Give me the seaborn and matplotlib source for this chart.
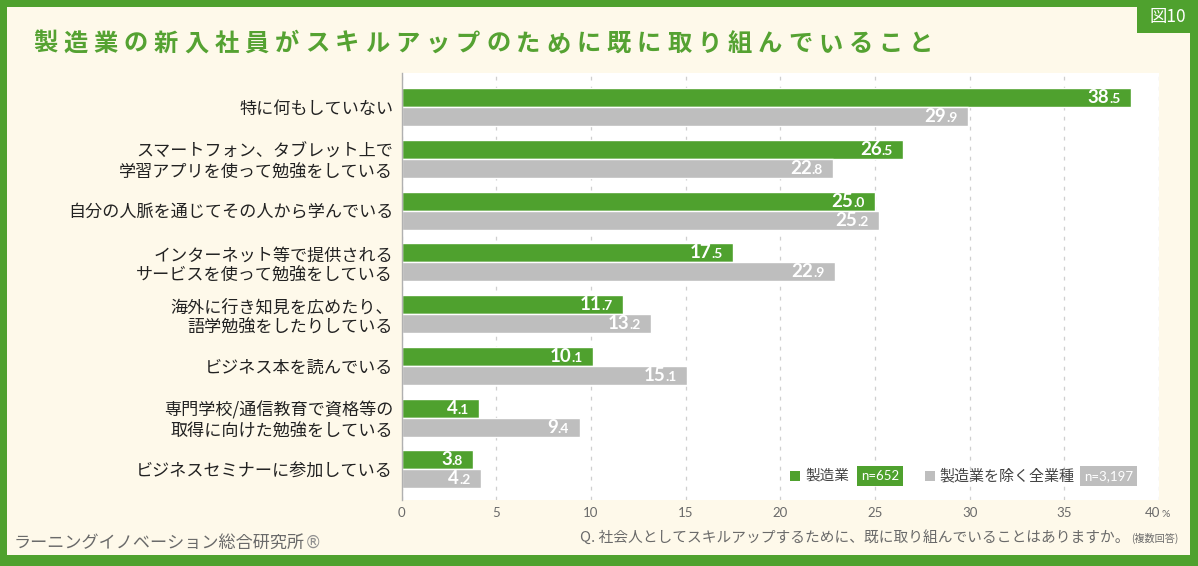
import matplotlib
matplotlib.use("Agg")
import numpy as np
import pandas as pd
import matplotlib.pyplot as plt
import seaborn as sns
from matplotlib.patches import Rectangle
from matplotlib.offsetbox import TextArea, HPacker, AnnotationBbox

categories = [
    "特に何もしていない",
    "スマートフォン、タブレット上で\n学習アプリを使って勉強をしている",
    "自分の人脈を通じてその人から学んでいる",
    "インターネット等で提供される\nサービスを使って勉強をしている",
    "海外に行き知見を広めたり、\n語学勉強をしたりしている",
    "ビジネス本を読んでいる",
    "専門学校/通信教育で資格等の\n取得に向けた勉強をしている",
    "ビジネスセミナーに参加している",
]
manufacturing = [38.5, 26.5, 25.0, 17.5, 11.7, 10.1, 4.1, 3.8]
all_other = [29.9, 22.8, 25.2, 22.9, 13.2, 15.1, 9.4, 4.2]
series = ["製造業", "製造業を除く全業種"]
sample_sizes = ["n=652", "n=3,197"]
xticks = [0, 5, 10, 15, 20, 25, 30, 35, 40]

title = "製造業の新入社員がスキルアップのために既に取り組んでいること"
source = "ラーニングイノベーション総合研究所"
question = "Q. 社会人としてスキルアップするために、既に取り組んでいることはありますか。"
question_note = "(複数回答)"

GREEN = "#4fa12e"
GRAY = "#bebebe"
CREAM = "#fef9ea"
TEXT_GRAY = "#6a6a6a"

W, H = 1198, 566


def fx(x):
    return x / W


def fy(y):
    return 1 - y / H


df = pd.DataFrame({
    "item": categories * 2,
    "group": [series[0]] * len(categories) + [series[1]] * len(categories),
    "pct": manufacturing + all_other,
})

sns.set_theme(style="white")
plt.rcParams["font.family"] = ["Noto Sans CJK JP", "DejaVu Sans"]

fig = plt.figure(figsize=(W / 100, H / 100), dpi=100, facecolor=GREEN)

# frame
fig.patches.append(Rectangle((fx(7), fy(555)), fx(1190) - fx(7), fy(7) - fy(555),
                             transform=fig.transFigure, facecolor=CREAM, edgecolor="none", zorder=-3))
fig.patches.append(Rectangle((fx(1137), fy(33)), fx(W) - fx(1137), 1 - fy(33),
                             transform=fig.transFigure, facecolor=GREEN, edgecolor="none", zorder=-2))
fig.text(fx(1168), fy(17), "図10", color="white", fontsize=12.5, ha="center", va="center")

# title, letter-spaced
for i, ch in enumerate(title):
    fig.text(fx(33 + i * 30.2), fy(44), ch, color="#55a232", fontsize=17.5,
             fontweight="bold", ha="left", va="center")

ax = fig.add_axes([fx(401.5), fy(500), fx(1159) - fx(401.5), fy(73) - fy(500)])
sns.barplot(data=df, y="item", x="pct", hue="group", orient="h",
            palette=[GREEN, GRAY], width=0.734, gap=0, saturation=1,
            legend=False, ax=ax)

ax.set_facecolor("white")
ax.set_xlim(0, 40)
ax.set_ylim(7.59, -0.656)
ax.set_xticks(xticks)
ax.set_xticklabels([str(t) for t in xticks[:-1]] + [""])
ax.set_xlabel("")
ax.set_ylabel("")
ax.grid(axis="x", color="#cfcfcf", linestyle=(0, (3, 5)), linewidth=0.9)
ax.set_axisbelow(True)
for side in ["top", "right", "bottom"]:
    ax.spines[side].set_visible(False)
ax.spines["left"].set_color("#b0b0b0")
ax.spines["left"].set_linewidth(1.0)
ax.tick_params(axis="x", length=0, labelsize=9.5, labelcolor=TEXT_GRAY, pad=5)
ax.tick_params(axis="y", length=0, labelsize=12.3, labelcolor="#222222", pad=6)
for lab in ax.get_yticklabels():
    lab.set_linespacing(1.2)
for lab in ax.get_xticklabels():
    lab.set_fontfamily("Lato")

# "40%" with small percent sign
pct_pack = HPacker(children=[
    TextArea("40", textprops=dict(color=TEXT_GRAY, fontsize=9.5, family="Lato")),
    TextArea("%", textprops=dict(color=TEXT_GRAY, fontsize=7.5, family="Lato")),
], align="baseline", pad=0, sep=1)
ax.add_artist(AnnotationBbox(pct_pack, (40, 0), xycoords=("data", "axes fraction"),
                             xybox=(-1, -5), boxcoords="offset points",
                             box_alignment=(0.5, 1), frameon=False, annotation_clip=False))

# value labels with smaller decimal
for container, vals in zip(ax.containers, [manufacturing, all_other]):
    for bar, v in zip(container, vals):
        whole, dec = f"{v:.1f}".split(".")
        pack = HPacker(children=[
            TextArea(whole, textprops=dict(color="white", fontsize=13.5, fontweight="bold", family="Lato")),
            TextArea("." + dec, textprops=dict(color="white", fontsize=10, fontweight="bold", family="Lato")),
        ], align="baseline", pad=0, sep=0)
        ab = AnnotationBbox(pack, (v, bar.get_y() + bar.get_height() / 2),
                            xybox=(-7.5, 0), boxcoords="offset points",
                            box_alignment=(1, 0.5), frameon=False)
        ax.add_artist(ab)

# legend
fig.patches.append(Rectangle((fx(790), fy(481)), fx(800) - fx(790), fy(471) - fy(481),
                             transform=fig.transFigure, facecolor=GREEN, edgecolor="none", zorder=5))
fig.text(fx(805), fy(476), series[0], color="#444444", fontsize=10.5, ha="left", va="center", zorder=6)
fig.text(fx(861), fy(476), sample_sizes[0], color="white", fontsize=9.5, family="Lato",
         ha="left", va="center", zorder=6,
         bbox=dict(boxstyle="square,pad=0.3", facecolor=GREEN, edgecolor="none"))
fig.patches.append(Rectangle((fx(925), fy(481)), fx(935) - fx(925), fy(471) - fy(481),
                             transform=fig.transFigure, facecolor=GRAY, edgecolor="none", zorder=5))
fig.text(fx(939), fy(476), series[1], color="#444444", fontsize=10.8, ha="left", va="center", zorder=6)
fig.text(fx(1084), fy(476), sample_sizes[1], color="white", fontsize=9.5, family="Lato",
         ha="left", va="center", zorder=6,
         bbox=dict(boxstyle="square,pad=0.3", facecolor=GRAY, edgecolor="none"))

# footers
src_pack = HPacker(children=[
    TextArea(source, textprops=dict(color=TEXT_GRAY, fontsize=12.3)),
    TextArea("®", textprops=dict(color="#909090", fontsize=12, family="DejaVu Sans")),
], align="baseline", pad=0, sep=0)
fig.add_artist(AnnotationBbox(src_pack, (fx(14), fy(543)), xycoords="figure fraction",
                              box_alignment=(0, 0.5), frameon=False))
fig.text(fx(1130), fy(537), question, color=TEXT_GRAY, fontsize=10.6, ha="right", va="center")
fig.text(fx(1131), fy(538), question_note, color=TEXT_GRAY, fontsize=7.3, ha="left", va="center")

fig.savefig("out.png", dpi=100, facecolor=fig.get_facecolor())
